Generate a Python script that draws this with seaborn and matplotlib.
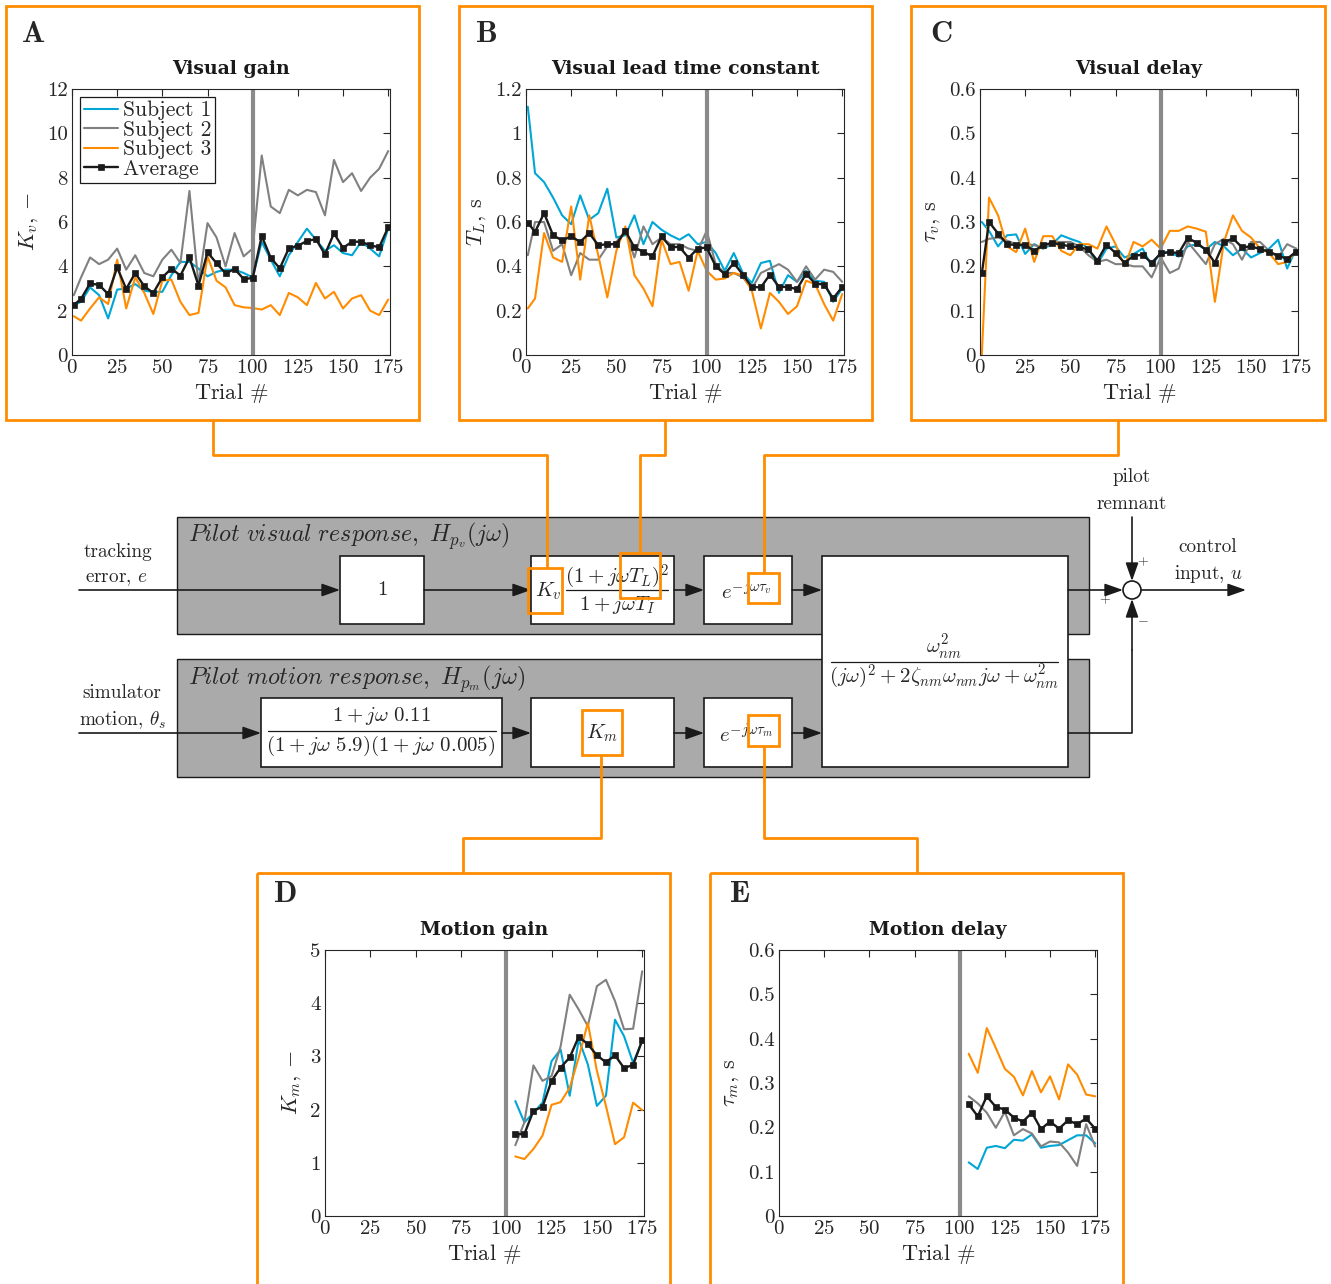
import numpy as np
import pandas as pd
import matplotlib
matplotlib.use('Agg')  # headless
import matplotlib.pyplot as plt
from matplotlib.patches import Rectangle, Circle
from matplotlib.ticker import FuncFormatter
import seaborn as sns

# ---- data ----
trials_vis = [1, 5, 10, 15, 20, 25, 30, 35, 40, 45, 50, 55, 60, 65, 70, 75, 80, 85,
              90, 95, 100, 105, 110, 115, 120, 125, 130, 135, 140, 145, 150, 155,
              160, 165, 170, 175]
trials_mot = [105, 110, 115, 120, 125, 130, 135, 140, 145, 150, 155, 160, 165, 170, 175]

# A: visual gain
kv_s1 = [2.25, 2.4, 3.05, 2.7, 1.65, 2.95, 3.0, 3.2, 2.9, 2.85, 2.85, 3.6, 4.2, 4.2, 3.9,
         3.55, 3.75, 3.85, 3.85, 3.7, 3.5, 5.1, 4.3, 3.55, 4.5, 5.1, 5.7, 5.2, 4.7, 4.95,
         4.6, 4.5, 5.1, 4.8, 4.45, 5.7]
kv_s2 = [2.7, 3.5, 4.4, 4.1, 4.3, 4.8, 3.85, 4.5, 3.7, 3.55, 4.3, 4.75, 4.15, 7.4, 3.2,
         5.95, 5.3, 4.0, 5.5, 4.45, 4.8, 9.0, 6.7, 6.4, 7.45, 7.2, 7.45, 7.35, 6.3, 8.8,
         7.8, 8.2, 7.4, 8.0, 8.4, 9.2]
kv_s3 = [1.75, 1.55, 2.1, 2.6, 2.3, 4.3, 2.1, 3.5, 2.8, 1.85, 3.35, 3.4, 2.4, 1.8, 1.9,
         4.45, 3.35, 3.05, 2.25, 2.15, 2.12, 2.05, 2.25, 1.8, 2.8, 2.6, 2.25, 3.25, 2.55,
         2.85, 2.1, 2.55, 2.7, 2.0, 1.8, 2.5]
kv_avg = [2.26, 2.53, 3.23, 3.16, 2.75, 3.95, 2.98, 3.7, 3.1, 2.8, 3.5, 3.9, 3.58, 4.4,
          3.13, 4.63, 4.14, 3.68, 3.88, 3.43, 3.47, 5.37, 4.38, 3.91, 4.81, 4.93, 5.14,
          5.23, 4.54, 5.49, 4.83, 5.11, 5.11, 4.95, 4.86, 5.76]

# B: visual lead time constant
tl_s1 = [1.12, 0.82, 0.78, 0.71, 0.63, 0.59, 0.72, 0.61, 0.64, 0.75, 0.53, 0.54, 0.63,
         0.5, 0.6, 0.565, 0.54, 0.52, 0.545, 0.5, 0.51, 0.46, 0.38, 0.46, 0.37, 0.325,
         0.415, 0.425, 0.28, 0.36, 0.33, 0.38, 0.335, 0.33, 0.24, 0.3]
tl_s2 = [0.45, 0.6, 0.6, 0.47, 0.5, 0.36, 0.46, 0.43, 0.43, 0.49, 0.51, 0.56, 0.44, 0.58,
         0.5, 0.53, 0.5, 0.5, 0.48, 0.47, 0.56, 0.41, 0.37, 0.37, 0.35, 0.3, 0.37, 0.39,
         0.41, 0.385, 0.33, 0.4, 0.34, 0.385, 0.375, 0.33]
tl_s3 = [0.21, 0.255, 0.55, 0.44, 0.42, 0.67, 0.34, 0.63, 0.45, 0.26, 0.47, 0.58, 0.36,
         0.3, 0.22, 0.52, 0.41, 0.42, 0.29, 0.47, 0.38, 0.34, 0.345, 0.37, 0.36, 0.29,
         0.12, 0.28, 0.24, 0.185, 0.22, 0.335, 0.32, 0.23, 0.155, 0.275]
tl_avg = [0.597, 0.555, 0.64, 0.54, 0.517, 0.535, 0.51, 0.55, 0.495, 0.5, 0.5, 0.56,
          0.485, 0.465, 0.445, 0.535, 0.487, 0.487, 0.438, 0.48, 0.485, 0.4, 0.365,
          0.415, 0.363, 0.307, 0.305, 0.363, 0.307, 0.307, 0.297, 0.367, 0.322, 0.318,
          0.255, 0.307]

# C: visual delay
tv_s1 = [0.30, 0.28, 0.245, 0.27, 0.272, 0.228, 0.25, 0.24, 0.25, 0.27, 0.262, 0.255,
         0.24, 0.205, 0.24, 0.245, 0.22, 0.228, 0.24, 0.2, 0.232, 0.232, 0.222, 0.245,
         0.25, 0.238, 0.255, 0.245, 0.225, 0.24, 0.22, 0.23, 0.24, 0.26, 0.195, 0.24]
tv_s2 = [0.255, 0.262, 0.265, 0.258, 0.25, 0.25, 0.248, 0.24, 0.255, 0.255, 0.255, 0.245,
         0.225, 0.21, 0.215, 0.205, 0.205, 0.2, 0.2, 0.175, 0.22, 0.185, 0.195, 0.255,
         0.23, 0.205, 0.25, 0.262, 0.25, 0.215, 0.255, 0.255, 0.235, 0.22, 0.25, 0.24]
tv_s3 = [0.0, 0.355, 0.315, 0.245, 0.232, 0.285, 0.21, 0.268, 0.268, 0.235, 0.225, 0.25,
         0.25, 0.24, 0.29, 0.25, 0.2, 0.255, 0.245, 0.26, 0.24, 0.28, 0.28, 0.29, 0.285,
         0.278, 0.12, 0.255, 0.315, 0.28, 0.265, 0.24, 0.23, 0.205, 0.21, 0.235]
tv_avg = [0.184, 0.30, 0.274, 0.25, 0.248, 0.248, 0.235, 0.248, 0.253, 0.249, 0.245,
          0.243, 0.238, 0.213, 0.249, 0.23, 0.208, 0.224, 0.226, 0.208, 0.229, 0.232,
          0.23, 0.264, 0.253, 0.237, 0.208, 0.254, 0.263, 0.243, 0.245, 0.239, 0.233,
          0.224, 0.217, 0.233]

# D: motion gain
km_s1 = [2.16, 1.76, 1.94, 2.13, 2.91, 3.13, 2.26, 3.32, 2.85, 2.07, 2.26, 3.69, 3.38, 2.88, 3.29]
km_s2 = [1.33, 1.76, 2.83, 2.54, 2.63, 3.19, 4.16, 3.88, 3.57, 4.32, 4.44, 4.04, 3.51, 3.52, 4.6]
km_s3 = [1.12, 1.07, 1.26, 1.51, 2.09, 2.14, 2.41, 2.98, 3.63, 2.73, 2.07, 1.35, 1.48, 2.13, 1.99]
km_avg = [1.54, 1.54, 1.98, 2.05, 2.54, 2.79, 2.98, 3.37, 3.23, 3.02, 2.89, 3.02, 2.78, 2.84, 3.3]

# E: motion delay
tm_s1 = [0.121, 0.106, 0.154, 0.158, 0.153, 0.172, 0.17, 0.184, 0.154, 0.158, 0.16,
         0.171, 0.182, 0.182, 0.164]
tm_s2 = [0.27, 0.254, 0.233, 0.199, 0.235, 0.182, 0.196, 0.186, 0.157, 0.168, 0.166,
         0.143, 0.113, 0.207, 0.157]
tm_s3 = [0.366, 0.323, 0.424, 0.379, 0.332, 0.314, 0.272, 0.327, 0.279, 0.315, 0.263,
         0.342, 0.319, 0.274, 0.27]
tm_avg = [0.252, 0.225, 0.27, 0.246, 0.24, 0.222, 0.213, 0.233, 0.196, 0.213, 0.197,
          0.216, 0.207, 0.22, 0.197]

subject_names = ['Subject 1', 'Subject 2', 'Subject 3']
BLUE, GRAY, ORANGE = '#00A6D6', '#808080', '#FF8C00'
subject_colors = [BLUE, GRAY, ORANGE]

W, H = 1331, 1284
sns.set_theme(style='white')
plt.rcParams['font.family'] = ['cmr10']
plt.rcParams['mathtext.fontset'] = 'cm'
plt.rcParams['axes.formatter.use_mathtext'] = True
plt.rcParams['axes.unicode_minus'] = False

fig = plt.figure(figsize=(W / 100, H / 100), dpi=100)
fig.patch.set_facecolor('white')

# background axes in pixel coordinates (y down) for frames and block diagram
bg = fig.add_axes([0, 0, 1, 1])
bg.set_xlim(0, W)
bg.set_ylim(H, 0)
bg.axis('off')


def px_axes(x0, y0, x1, y1):
    return fig.add_axes([x0 / W, 1 - y1 / H, (x1 - x0) / W, (y1 - y0) / H])


fmt = FuncFormatter(lambda v, p: f'{v:g}')


def panel(box, letter, title, ylabel, ymax, ystep, trials, subs, avg, legend=False):
    ax = px_axes(*box)
    for name, vals, col in zip(subject_names, subs, subject_colors):
        sns.lineplot(x=trials, y=vals, color=col, lw=1.5, ax=ax,
                     label=name if legend else None, estimator=None, zorder=2)
    ax.axvline(100, color='#8a8a8a', lw=3.0, zorder=2.5)
    sns.lineplot(x=trials, y=avg, color='k', lw=1.7, marker='s', markersize=5,
                 markeredgecolor='k', markeredgewidth=0.5, ax=ax,
                 label='Average' if legend else None, estimator=None, zorder=3)
    ax.set_xlim(0, 176)
    ax.set_ylim(0, ymax)
    ax.set_xticks(range(0, 176, 25))
    ax.set_yticks(np.arange(0, ymax + ystep / 2, ystep))
    ax.yaxis.set_major_formatter(fmt)
    ax.tick_params(direction='in', top=True, right=True, length=5, width=0.8,
                   labelsize=15, colors='#262626', pad=3)
    for s in ax.spines.values():
        s.set_color('#262626')
        s.set_linewidth(0.8)
    ax.set_xlabel(r'Trial $\#$', fontsize=16, labelpad=3)
    ax.set_ylabel(ylabel, fontsize=16, labelpad=5)
    ax.set_title(title, fontsize=13.6, fontfamily='DejaVu Serif', fontweight='bold',
                 color='#1a1a1a', pad=11)
    if legend:
        leg = ax.legend(loc='upper left', fontsize=15.5, frameon=True, fancybox=False,
                        edgecolor='k', framealpha=1, handlelength=1.6, handletextpad=0.2,
                        labelspacing=0.0, borderpad=0.2, borderaxespad=0.35)
        leg.get_frame().set_linewidth(0.9)
    else:
        if ax.get_legend() is not None:
            ax.get_legend().remove()
    fx = box[0] - 66
    fy = box[1] - 83
    bg.text(fx + 27, fy + 28, letter, fontsize=22, fontfamily='cmb10',
            ha='center', va='center')
    return ax


panel((72, 89, 390, 355), 'A', 'Visual gain', r'$K_v$, $-$', 12, 2,
      trials_vis, [kv_s1, kv_s2, kv_s3], kv_avg, legend=True)
panel((526, 89, 844, 355), 'B', 'Visual lead time constant', r'$T_L$, s', 1.2, 0.2,
      trials_vis, [tl_s1, tl_s2, tl_s3], tl_avg)
panel((980, 89, 1298, 355), 'C', 'Visual delay', r'$\tau_v$, s', 0.6, 0.1,
      trials_vis, [tv_s1, tv_s2, tv_s3], tv_avg)
panel((325, 950, 644, 1216), 'D', 'Motion gain', r'$K_m$, $-$', 5, 1,
      trials_mot, [km_s1, km_s2, km_s3], km_avg)
panel((779, 950, 1097, 1216), 'E', 'Motion delay', r'$\tau_m$, s', 0.6, 0.1,
      trials_mot, [tm_s1, tm_s2, tm_s3], tm_avg)

# ---- orange panel frames and connectors ----
OLW = 2.0
for (x0, y0, x1, y1) in [(6, 6, 419, 420), (459, 6, 872, 420), (911, 6, 1325, 420),
                         (257, 873, 670, 1300), (710, 873, 1123, 1300)]:
    bg.add_patch(Rectangle((x0, y0), x1 - x0, y1 - y0, fill=False, ec=ORANGE,
                           lw=OLW, zorder=6))

connectors = [[(213, 420), (213, 455), (547, 455), (547, 568)],
              [(665, 420), (665, 455), (640, 455), (640, 553)],
              [(1118, 420), (1118, 455), (764, 455), (764, 573)],
              [(601, 755), (601, 838), (463, 838), (463, 873)],
              [(764, 746), (764, 838), (917, 838), (917, 873)]]
for path in connectors:
    xs, ys = zip(*path)
    bg.plot(xs, ys, color=ORANGE, lw=OLW, zorder=6, solid_capstyle='butt')

for (x0, y0, x1, y1) in [(528, 568, 562, 613), (620, 553, 660, 598), (748, 573, 779, 603),
                         (582, 710, 622, 755), (748, 715, 779, 746)]:
    bg.add_patch(Rectangle((x0, y0), x1 - x0, y1 - y0, fill=False, ec=ORANGE,
                           lw=OLW, zorder=6))

# ---- block diagram ----
for (x0, y0, x1, y1) in [(177, 517, 1089, 634), (177, 659, 1089, 777)]:
    bg.add_patch(Rectangle((x0, y0), x1 - x0, y1 - y0, fc='#aaaaaa', ec='k', lw=1.0, zorder=1))

for (x0, y0, x1, y1) in [(340, 556, 424, 624), (531, 556, 674, 624), (704, 556, 792, 624),
                         (822, 556, 1068, 767), (261, 698, 502, 767), (531, 698, 674, 767),
                         (704, 698, 792, 767)]:
    bg.add_patch(Rectangle((x0, y0), x1 - x0, y1 - y0, fc='white', ec='k', lw=1.2, zorder=2))


def arrow(x0, y0, x1, y1):
    bg.annotate('', xy=(x1, y1), xytext=(x0, y0),
                arrowprops=dict(arrowstyle='-|>,head_length=0.85,head_width=0.3',
                                color='k', lw=1.2, shrinkA=0, shrinkB=0,
                                mutation_scale=13), zorder=3)


yv, ym = 590, 733
arrow(79, yv, 340, yv)
arrow(424, yv, 531, yv)
arrow(674, yv, 704, yv)
arrow(792, yv, 822, yv)
arrow(1068, yv, 1123, yv)
arrow(1141, yv, 1246, yv)
arrow(79, ym, 261, ym)
arrow(502, ym, 531, ym)
arrow(674, ym, 704, ym)
arrow(792, ym, 822, ym)
bg.plot([1068, 1132, 1132], [ym, ym, 650], color='k', lw=1.2, zorder=3)
arrow(1132, 650, 1132, 599)
arrow(1132, 517, 1132, 581)
bg.add_patch(Circle((1132, yv), 9, fc='white', ec='k', lw=1.2, zorder=4))

TS = 13.8
bg.text(1143, 562, '+', fontsize=10, ha='center', va='center', zorder=4)
bg.text(1105, 600, '+', fontsize=10, ha='center', va='center', zorder=4)
bg.text(1143, 620, r'$-$', fontsize=10, ha='center', va='center', zorder=4)

bg.text(118, 552, 'tracking', fontsize=TS, ha='center', va='center')
bg.text(116, 579, r'error, $e$', fontsize=TS, ha='center', va='center')
bg.text(122, 693, 'simulator', fontsize=TS, ha='center', va='center')
bg.text(122, 720, r'motion, $\theta_s$', fontsize=TS, ha='center', va='center')
bg.text(1132, 477, 'pilot', fontsize=TS, ha='center', va='center')
bg.text(1132, 504, 'remnant', fontsize=TS, ha='center', va='center')
bg.text(1208, 547, 'control', fontsize=TS, ha='center', va='center')
bg.text(1208, 574, r'input, $u$', fontsize=TS, ha='center', va='center')

bg.text(188, 536, r'$\mathit{Pilot\ visual\ response,}\ H_{p_v}(j\omega)$', fontsize=17.3,
        ha='left', va='center', zorder=4)
bg.text(188, 679, r'$\mathit{Pilot\ motion\ response,}\ H_{p_m}(j\omega)$', fontsize=17.3,
        ha='left', va='center', zorder=4)

MS = 15
bg.text(382, 590, '1', fontsize=MS, ha='center', va='center', zorder=4)
bg.text(548, 591, r'$K_v$', fontsize=MS, ha='center', va='center', zorder=4)
bg.text(617, 577, r'$(1+j\omega T_L)^2$', fontsize=MS, ha='center', va='center', zorder=4)
bg.text(617, 605, r'$1+j\omega T_I$', fontsize=MS, ha='center', va='center', zorder=4)
bg.plot([566, 668], [yv, yv], color='k', lw=0.9, zorder=4)
bg.text(746, 592, r'$e^{-j\omega\tau_v}$', fontsize=MS, ha='center', va='center', zorder=4)
bg.text(746, 735, r'$e^{-j\omega\tau_m}$', fontsize=MS, ha='center', va='center', zorder=4)
bg.text(602, 733, r'$K_m$', fontsize=MS, ha='center', va='center', zorder=4)
bg.text(381, 716, r'$1+j\omega\ 0.11$', fontsize=MS, ha='center', va='center', zorder=4)
bg.text(381, 746, r'$(1+j\omega\ 5.9)(1+j\omega\ 0.005)$', fontsize=MS, ha='center',
        va='center', zorder=4)
bg.plot([268, 496], [731, 731], color='k', lw=0.9, zorder=4)
bg.text(944, 647, r'$\omega_{nm}^2$', fontsize=MS, ha='center', va='center', zorder=4)
bg.text(944, 677, r'$(j\omega)^2+2\zeta_{nm}\omega_{nm}j\omega+\omega_{nm}^2$', fontsize=MS,
        ha='center', va='center', zorder=4)
bg.plot([831, 1058], [662, 662], color='k', lw=0.9, zorder=4)

fig.savefig('out.png', dpi=100, facecolor='white')
